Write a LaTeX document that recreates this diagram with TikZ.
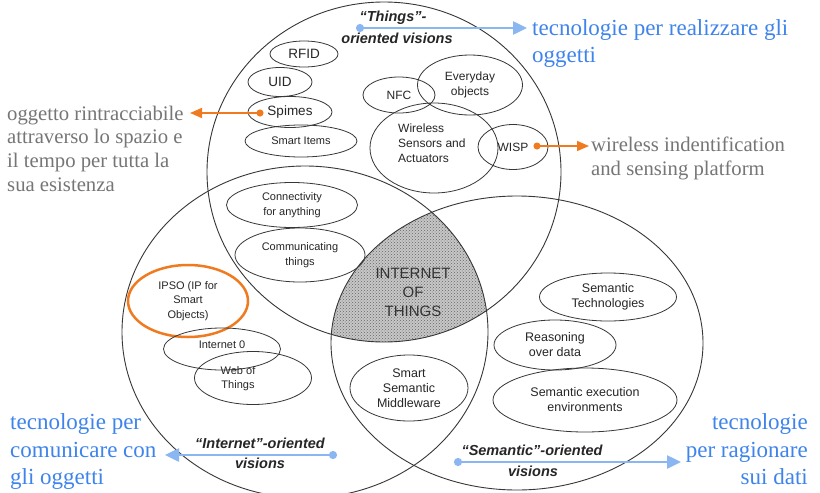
\documentclass[tikz,border=0pt]{standalone}
\usepackage{fontspec}
\setmainfont{Liberation Serif}
\newfontfamily\arialf{Liberation Sans}
\usetikzlibrary{shapes.geometric,arrows.meta,patterns}
\definecolor{bluetxt}{RGB}{62,132,236}
\definecolor{bluearr}{RGB}{138,182,242}
\definecolor{orng}{RGB}{240,122,32}
\definecolor{graytxt}{RGB}{118,118,118}
\definecolor{linec}{RGB}{55,55,55}
\newcommand\afs[2]{\arialf\fontsize{#1}{#2}\selectfont}
\begin{document}
\begin{tikzpicture}[x=1pt,y=-1pt,
  ell/.style={draw=linec,line width=0.8pt,ellipse,inner sep=0pt,align=center,text=black!85},
  lbl/.style={inner sep=0pt,align=center,text=black!85},
  big/.style={draw=linec,line width=0.9pt},
  bluetext/.style={text=bluetxt,font=\fontsize{23}{27}\selectfont,inner sep=0pt},
  graytext/.style={text=graytxt,font=\fontsize{20.7}{24}\selectfont,inner sep=0pt},
  blueconn/.style={draw=bluearr,line width=2.5pt,{Circle[length=8pt,width=8pt]}-{Triangle[length=14pt,width=13pt]}},
  orangeconn/.style={draw=orng,line width=1.5pt,{Circle[length=7pt,width=7pt]}-{Triangle[length=12pt,width=10pt]}},
  vis/.style={font=\arialf\bfseries\itshape\fontsize{14.5}{20}\selectfont,text=black!85,inner sep=0pt},
]
\fill[white] (0,0) rectangle (820,493);
\useasboundingbox (0,0) rectangle (820,493);

% intersection region
\begin{scope}
  \clip (384,172) ellipse [x radius=177,y radius=170];
  \clip (305,332) ellipse [x radius=183,y radius=166];
  \fill[black!22] (517,343) ellipse [x radius=186,y radius=147];
  \fill[pattern=crosshatch dots,pattern color=black!60] (517,343) ellipse [x radius=186,y radius=147];
\end{scope}

% big circles
\draw[big] (384,172) ellipse [x radius=177,y radius=170];
\draw[big] (305,332) ellipse [x radius=183,y radius=166];
\draw[big] (517,343) ellipse [x radius=186,y radius=147];

% things-oriented
\node[ell,minimum width=68pt,minimum height=26pt,font=\afs{13.5}{16}] (rfid) at (304,54) {RFID};
\node[ell,minimum width=64pt,minimum height=29pt,font=\afs{13.5}{16}] (uid) at (280,82) {UID};
\node[ell,minimum width=84pt,minimum height=31pt,font=\afs{13.5}{16}] (spimes) at (290,112) {Spimes};
\node[ell,minimum width=112pt,minimum height=32pt,font=\afs{11}{14}] (smartitems) at (301,141) {Smart Items};
\node[ell,minimum width=72pt,minimum height=36pt,font=\afs{12}{15}] (nfc) at (399,95) {NFC};
\node[ell,minimum width=105pt,minimum height=60pt,font=\afs{12}{15}] (everyday) at (470,85) {Everyday\\objects};
\node[ell,minimum width=128pt,minimum height=90pt] (wsa) at (434,148) {};
\node[lbl,align=left,anchor=west,font=\afs{12}{15}] (wsatxt) at (398,143) {Wireless\\Sensors and\\Actuators};
\node[ell,minimum width=70pt,minimum height=45pt,font=\afs{12}{15}] (wisp) at (513,147) {WISP};

% internet-oriented
\node[ell,minimum width=131pt,minimum height=45pt,font=\afs{11}{15}] (conn) at (292,205) {Connectivity\\for anything};
\node[ell,minimum width=130pt,minimum height=54pt,font=\afs{11}{15}] (comm) at (300,255) {Communicating\\things};
\node[ell,draw=orng,line width=2.5pt,minimum width=120pt,minimum height=72pt,font=\afs{11}{14.5}] (ipso) at (188,301) {IPSO (IP for\\Smart\\Objects)};
\node[ell,minimum width=117pt,minimum height=42pt] (inet0) at (222,349) {};
\node[lbl,font=\afs{11}{14}] (inet0txt) at (222,345) {Internet 0};
\node[ell,minimum width=117pt,minimum height=53pt] (wot) at (253,378) {};
\node[lbl,font=\afs{11}{14}] (wottxt) at (238,379) {Web of\\Things};

% semantic-oriented
\node[ell,minimum width=118pt,minimum height=66pt,font=\afs{12.5}{15}] (ssm) at (409,388) {Smart\\Semantic\\Middleware};
\node[ell,minimum width=137pt,minimum height=48pt,font=\afs{12.5}{15}] (semtech) at (608,297) {Semantic\\Technologies};
\node[ell,minimum width=122pt,minimum height=50pt,font=\afs{12.5}{15}] (reason) at (555,345) {Reasoning\\over data};
\node[ell,minimum width=184pt,minimum height=64pt,font=\afs{12.5}{15}] (semexec) at (585,400) {Semantic execution\\environments};

% centre
\node[lbl,font=\afs{15}{19},text=black!80] (iot) at (413,292) {INTERNET\\OF\\THINGS};

% vision labels
\node[vis] (thingsA) at (393,18) {“Things”-};
\node[vis] (thingsB) at (397,38) {oriented visions};
\node[vis] (inetA) at (260,443) {“Internet”-oriented};
\node[vis] (inetB) at (260,463) {visions};
\node[vis] (semA) at (532,450) {“Semantic”-oriented};
\node[vis] (semB) at (533,471) {visions};

% side texts
\node[bluetext,anchor=base west] (tr1) at (532,35) {tecnologie per realizzare gli};
\node[bluetext,anchor=base west] (tr2) at (532,62) {oggetti};
\node[graytext,anchor=base west] (gl1) at (7,120) {oggetto rintracciabile};
\node[graytext,anchor=base west] (gl2) at (7,143) {attraverso lo spazio e};
\node[graytext,anchor=base west] (gl3) at (7,167) {il tempo per tutta la};
\node[graytext,anchor=base west] (gl4) at (7,191) {sua esistenza};
\node[graytext,anchor=base west] (gr1) at (591,151) {wireless indentification};
\node[graytext,anchor=base west] (gr2) at (591,175) {and sensing platform};
\node[bluetext,anchor=base west] (bl1) at (10,429) {tecnologie per};
\node[bluetext,anchor=base west] (bl2) at (10,457) {comunicare con};
\node[bluetext,anchor=base west] (bl3) at (10,484) {gli oggetti};
\node[bluetext,anchor=base east] (br1) at (808,429) {tecnologie};
\node[bluetext,anchor=base east] (br2) at (808,457) {per ragionare};
\node[bluetext,anchor=base east] (br3) at (808,484) {sui dati};

% connectors
\coordinate (tS) at (356,28);
\coordinate (tE) at (527,28);
\draw[blueconn] (tS) -- (tE);
\coordinate (sS) at (263.5,113);
\coordinate (sE) at (190,113);
\draw[orangeconn] (sS) -- (sE);
\coordinate (wS) at (533.5,146);
\coordinate (wE) at (589,146);
\draw[orangeconn] (wS) -- (wE);
\coordinate (iS) at (337,455);
\coordinate (iE) at (165,455);
\draw[blueconn] (iS) -- (iE);
\coordinate (mS) at (454,462);
\coordinate (mE) at (681,462);
\draw[blueconn] (mS) -- (mE);
\end{tikzpicture}
\end{document}
